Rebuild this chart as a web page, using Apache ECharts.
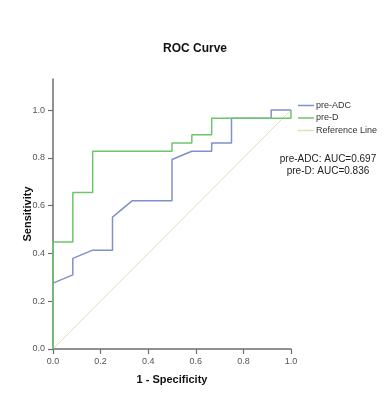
<!DOCTYPE html>
<html>
<head>
<meta charset="utf-8">
<script src="https://cdn.jsdelivr.net/npm/echarts@6/dist/echarts.min.js"></script>
<style>html,body{margin:0;padding:0;background:#fff;}#c{width:390px;height:400px;}</style>
</head>
<body>
<div id="c"></div>
<script>
// 1 - Specificity / Sensitivity coordinates (12 negatives, 29 positives)
var adcX = [0, 0, 0.0833, 0.0833, 0.1667, 0.25, 0.25, 0.3333, 0.5, 0.5, 0.5833, 0.6667, 0.6667, 0.75, 0.75, 0.9167, 0.9167, 1.0];
var adcY = [0, 0.2759, 0.3103, 0.3793, 0.4138, 0.4138, 0.5517, 0.6207, 0.6207, 0.7931, 0.8276, 0.8276, 0.8621, 0.8621, 0.9655, 0.9655, 1.0, 1.0];
var dX = [0, 0, 0.0833, 0.0833, 0.1667, 0.1667, 0.5, 0.5, 0.5833, 0.5833, 0.6667, 0.6667, 1.0, 1.0];
var dY = [0, 0.4483, 0.4483, 0.6552, 0.6552, 0.8276, 0.8276, 0.8621, 0.8621, 0.8966, 0.8966, 0.9655, 0.9655, 1.0];
var refX = [0, 1];
var refY = [0, 1];
var tickValues = [0, 0.2, 0.4, 0.6, 0.8, 1.0];
var seriesNames = ['pre-ADC', 'pre-D', 'Reference Line'];
var aucLines = ['pre-ADC: AUC=0.697', 'pre-D: AUC=0.836'];

function zip(a, b) { return a.map(function (v, i) { return [v, b[i]]; }); }

var chart = echarts.init(document.getElementById('c'), null, { renderer: 'canvas' });
var axisCommon = {
  type: 'value',
  min: 0,
  axisLine: { show: true, lineStyle: { color: '#6e6e6e', width: 1.5 } },
  axisTick: { show: true, length: 5, lineStyle: { color: '#6e6e6e', width: 1.2 }, customValues: tickValues },
  axisLabel: { color: '#555', fontSize: 9, fontFamily: 'Liberation Sans, Arial, sans-serif',
    customValues: tickValues, formatter: function (v) { return v.toFixed(1); } },
  splitLine: { show: false },
  nameLocation: 'middle',
  nameMoveOverlap: false,
  nameTextStyle: { color: '#111', fontSize: 11, fontWeight: 'bold', fontFamily: 'Liberation Sans, Arial, sans-serif' }
};
chart.setOption({
  animation: false,
  backgroundColor: '#fff',
  title: {
    text: 'ROC Curve', left: 'center', top: 38,
    textStyle: { fontSize: 12, fontWeight: 'bold', color: '#111', fontFamily: 'Liberation Sans, Arial, sans-serif' }
  },
  grid: { left: 53, right: 99, top: 79, bottom: 51, containLabel: false },
  xAxis: Object.assign({}, axisCommon, { max: 1.0, name: '1 - Specificity', nameGap: 25 }),
  yAxis: Object.assign({}, axisCommon, { max: 1.13, name: 'Sensitivity', nameGap: 20 }),
  legend: {
    orient: 'vertical', left: 298, top: 101, itemGap: 3.5, padding: 0,
    icon: 'rect', itemWidth: 16, itemHeight: 1.5,
    textStyle: { fontSize: 9, color: '#333', fontFamily: 'Liberation Sans, Arial, sans-serif', padding: [0, 0, 0, -3] },
    data: seriesNames
  },
  graphic: [
    { type: 'text', x: 328, y: 153, style: { text: aucLines.join('\n'), fill: '#222', fontSize: 10, lineHeight: 12, align: 'center', fontFamily: 'Liberation Sans, Arial, sans-serif' } }
  ],
  series: [
    { name: seriesNames[2], type: 'line', data: zip(refX, refY), symbol: 'none', lineStyle: { color: '#e2dfb4', width: 1 }, itemStyle: { color: '#e2dfb4' }, z: 1 },
    { name: seriesNames[0], type: 'line', data: zip(adcX, adcY), symbol: 'none', lineStyle: { color: '#8090c8', width: 1.5 }, itemStyle: { color: '#8090c8' }, z: 2 },
    { name: seriesNames[1], type: 'line', data: zip(dX, dY), symbol: 'none', lineStyle: { color: '#6cc66c', width: 1.5 }, itemStyle: { color: '#6cc66c' }, z: 3 }
  ]
});
</script>
</body>
</html>
